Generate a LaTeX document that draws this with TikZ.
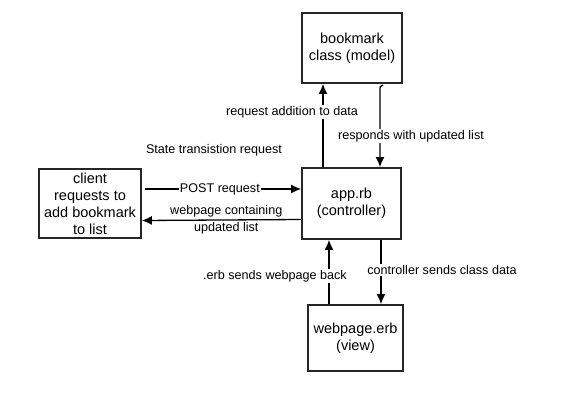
\documentclass[tikz,border=0pt]{standalone}
\usepackage{fontspec}
\setmainfont{Liberation Sans}
\usetikzlibrary{arrows.meta}
\begin{document}
\begin{tikzpicture}[x=1pt,y=-1pt,
  box/.style={draw=black!85,line width=1.8pt,rectangle,align=center,inner sep=0pt,
    font=\fontsize{14.5}{17}\selectfont},
  arr/.style={line width=1.3pt,-{Latex[length=10pt,width=9pt]}},
  lbl/.style={font=\fontsize{12.6}{15.5}\selectfont,inner sep=1pt},
  wlbl/.style={lbl,fill=white}]
\useasboundingbox (0,0) rectangle (567,402);
\node[box,minimum width=100pt,minimum height=70pt] (model) at (352,48) {bookmark\\class (model)};
\node[box,minimum width=99pt,minimum height=71pt] (ctrl) at (351.5,203.5) {app.rb\\(controller)};
\node[box,minimum width=95pt,minimum height=66pt] (view) at (355.5,338) {webpage.erb\\(view)};
\node[box,minimum width=102pt,minimum height=69pt] (client) at (90,203.5) {client\\requests to\\add bookmark\\to list};
\coordinate (rq) at (323,0);
\coordinate (rs) at (380,0);
\coordinate (eb) at (329,0);
\coordinate (cs) at (381,0);
\coordinate (rstop) at (383,85);
% client -> controller
\draw[arr] ([xshift=3pt,yshift=14.5pt]client.east) -- ([yshift=14.5pt]ctrl.west)
  node[wlbl,pos=0.48] {POST request};
% controller -> client
\draw[arr] ([yshift=-16pt]ctrl.west) -- ([yshift=-17pt]client.east)
  node[lbl,pos=0.47,align=center,inner sep=0pt] {webpage containing\\[1pt]updated list};
% controller -> model
\draw[arr] (ctrl.north -| rq) -- (model.south -| rq);
\node[wlbl] (lreq) at (292,112) {request addition to data};
% model -> controller
\draw[arr] (rstop) .. controls (380,86) .. (380,91) -- (ctrl.north -| rs);
\node[wlbl] (lres) at (411,136) {responds with updated list};
% view -> controller
\draw[arr] (view.north -| eb) -- (ctrl.south -| eb);
\node[wlbl] (lerb) at (275,276) {.erb sends webpage back};
% controller -> view
\draw[arr] (ctrl.south -| cs) -- (view.north -| cs);
\node[wlbl] (lcs) at (442,270) {controller sends class data};
\node[lbl] (state) at (214,150) {State transistion request};
\end{tikzpicture}
\end{document}
